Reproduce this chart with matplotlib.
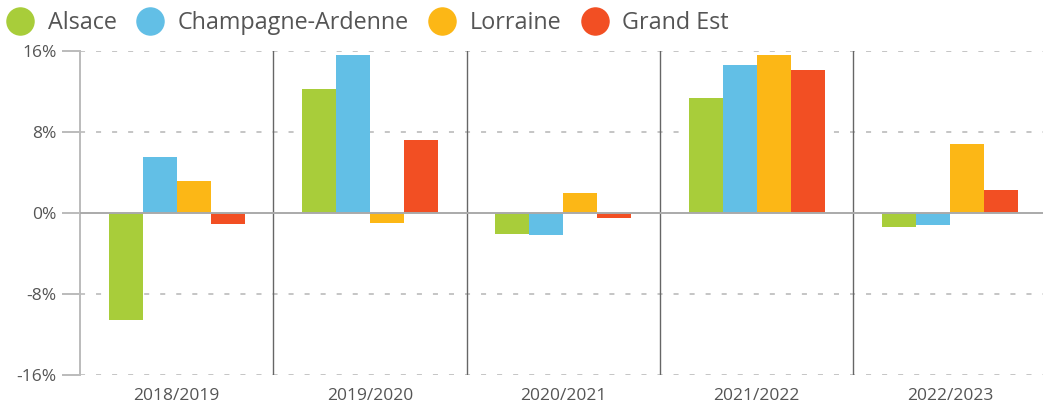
import numpy as np
import matplotlib.pyplot as plt
from matplotlib.lines import Line2D

years = ['2018/2019', '2019/2020', '2020/2021', '2021/2022', '2022/2023']
regions = ['Alsace', 'Champagne-Ardenne', 'Lorraine', 'Grand Est']
alsace = [-10.6, 12.2, -2.05, 11.4, -1.35]
champagne = [5.55, 15.6, -2.15, 14.6, -1.15]
lorraine = [3.2, -0.95, 2.0, 15.6, 6.8]
grand_est = [-1.05, 7.2, -0.45, 14.15, 2.3]
colors = ['#a8cd3a', '#62bfe6', '#fcb716', '#f24f23']

plt.rcParams['font.family'] = ['Open Sans', 'DejaVu Sans']
txt = '#555555'

fig = plt.figure(figsize=(10.43, 4.09), dpi=100)
ax = fig.add_axes([80 / 1043, 34 / 409, 963 / 1043, 324 / 409])

x = np.arange(len(years))
w = 0.176
series = [alsace, champagne, lorraine, grand_est]
for i, vals in enumerate(series):
    ax.bar(x + (i - 1.5) * w, vals, width=w, color=colors[i], zorder=3)

ax.set_ylim(-16, 16)
ax.set_xlim(-0.5, -0.5 + 963 / 193.3)
ax.set_yticks([-16, -8, 0, 8, 16])
ax.set_yticklabels(['-16%', '-8%', '0%', '8%', '16%'])
ax.set_xticks(x)
ax.set_xticklabels(years)

for y in [-16, -8, 8, 16]:
    ax.axhline(y, color='#b5b5b5', lw=1.1, dashes=(3.3, 7.2), zorder=1)
ax.axhline(0, color='#aaaaaa', lw=1.4, zorder=4)
for b in x[1:] - 0.5:
    ax.axvline(b, color='#666666', lw=1.0, zorder=2)

for s in ['top', 'right', 'bottom']:
    ax.spines[s].set_visible(False)
ax.spines['left'].set_color('#bbbbbb')
ax.spines['left'].set_linewidth(1.4)
ax.tick_params(axis='y', length=13, width=1.4, color='#bbbbbb', labelsize=12.5,
               labelcolor=txt, pad=4)
ax.tick_params(axis='x', length=0, labelsize=12.5, labelcolor=txt, pad=9)

handles = [Line2D([], [], marker='o', ls='', markersize=19.5, color=c) for c in colors]
fig.legend(handles, regions, loc='upper left', bbox_to_anchor=(-0.014, 1.025), ncol=4,
           frameon=False, fontsize=16.8, labelcolor=txt, handletextpad=0.58,
           columnspacing=0.83, handlelength=1.2)

fig.savefig('out.png', dpi=100)
